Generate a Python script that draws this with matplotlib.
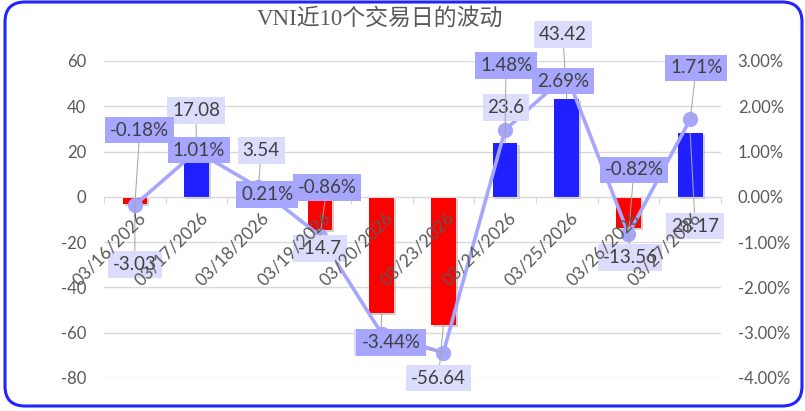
import matplotlib
matplotlib.use('Agg')
import matplotlib.pyplot as plt
import matplotlib.patheffects as pe
from matplotlib.patches import FancyBboxPatch
from matplotlib.transforms import IdentityTransform
from matplotlib.ticker import FuncFormatter

plt.rcParams['font.family'] = ['Lato', 'DejaVu Sans']
plt.rcParams['axes.unicode_minus'] = False

# ── 数据 ──
dates = ['03/16/2026', '03/17/2026', '03/18/2026', '03/19/2026', '03/20/2026',
         '03/23/2026', '03/24/2026', '03/25/2026', '03/26/2026', '03/27/2026']
change_pts = [-3.03, 17.08, 3.54, -14.7, -51.2, -56.64, 23.6, 43.42, -13.56, 28.17]
change_pct = [-0.18, 1.01, 0.21, -0.86, -3.02, -3.44, 1.48, 2.69, -0.82, 1.71]

# 标签位置 (像素偏移: 右, 下)
bar_lbl_off = [(0, 61), (-0.6, -48), (3, -38), (0, 18), (-1, 30),
               (-5, 53), (1, -36), (-4, -64), (1.5, 30), (5, 93)]
line_lbl_off = [(5, -75), (2.5, -1), (9, 7.5), (7, -48), (9, 9),
                (-52, -10), (1, -64), (-4, 6), (5.5, -64), (6, -51.5)]

BLUE = '#1F1FFF'
RED = '#FF0000'
LINE = '#A6A6FF'
LBL_LIGHT = '#DCDCFC'
TXT = '#404040'
GREY = '#595959'
GRID = '#D9D9D9'

fig = plt.figure(figsize=(8.05, 4.11), dpi=100)
ax = fig.add_axes([0.1292, 0.0803, 0.7665, 0.7713])
x = list(range(len(dates)))

# (1) 柱状图: 涨跌点数
colors = [BLUE if v >= 0 else RED for v in change_pts]
bars = ax.bar(x, change_pts, width=0.4, color=colors, zorder=2)
for b in bars:
    b.set_path_effects([pe.SimplePatchShadow(offset=(1.5, -1.5), shadow_rgbFace='#808080', alpha=0.35),
                        pe.Normal()])

ax.set_xlim(-0.5, len(dates) - 0.5)
ax.set_ylim(-80, 60)
ax.set_yticks(range(-80, 61, 20))
ax.yaxis.grid(True, color=GRID, lw=1)
ax.set_axisbelow(True)
ax.set_xticks([i + 0.5 for i in x[:-1]] + [-0.5, len(dates) - 0.5])
ax.tick_params(axis='x', length=5, color=GRID, labelbottom=False)
ax.tick_params(axis='y', length=0, labelsize=12, labelcolor=GREY, pad=13)
for s in ['top', 'left', 'right']:
    ax.spines[s].set_visible(False)
ax.spines['bottom'].set_position(('data', 0))
ax.spines['bottom'].set_color(GRID)

# (2) 折线图: 涨跌幅
ax2 = ax.twinx()
ax2.plot(x, change_pct, color=LINE, lw=2.6, marker='o', ms=10, zorder=3)
ax2.set_ylim(-4, 3)
ax2.set_yticks(range(-4, 4))
ax2.yaxis.set_major_formatter(FuncFormatter(lambda v, p: f'{v:.2f}%'))
ax2.tick_params(axis='y', length=0, labelsize=12, labelcolor=GREY, pad=12)
for s in ax2.spines.values():
    s.set_visible(False)

# 数据标签都画在折线之上
for i, v in enumerate(change_pts):
    dx, dy = bar_lbl_off[i]
    ax2.annotate(f'{v:g}', xy=(i, v), xycoords=ax.transData,
                 xytext=(dx * 0.72, -dy * 0.72), textcoords='offset points',
                 ha='center', va='center', fontsize=13.5, color=TXT, zorder=5,
                 bbox=dict(boxstyle='square,pad=0.26', fc=LBL_LIGHT, ec='none'),
                 arrowprops=dict(arrowstyle='-', color='#A6A6A6', lw=0.75, shrinkA=0, shrinkB=0))

for i, p in enumerate(change_pct):
    dx, dy = line_lbl_off[i]
    ax2.annotate(f'{p:.2f}%', xy=(i, p), xytext=(dx * 0.72, -dy * 0.72), textcoords='offset points',
                 ha='center', va='center', fontsize=13.5, color=TXT, zorder=6,
                 bbox=dict(boxstyle='square,pad=0.26', fc=LINE, ec='none'),
                 arrowprops=dict(arrowstyle='-', color='#A6A6A6', lw=0.75, shrinkA=0, shrinkB=0))

# 日期标签 (画在最上层)
for i, d in enumerate(dates):
    ax2.annotate(d, xy=(i, 0), xytext=(2, -9), textcoords='offset points',
                 rotation=45, rotation_mode='anchor', ha='right', va='top',
                 fontsize=12.5, color=GREY, zorder=10, annotation_clip=False)

fig.text(0.472, 0.955, 'VNI近10个交易日的波动', ha='center', va='center', fontsize=16.5,
         color=GREY, family=['Liberation Serif', 'Noto Sans CJK SC'])

# 圆角边框
border = FancyBboxPatch((5, 5), 797, 404, boxstyle='round,pad=0,rounding_size=20',
                        transform=IdentityTransform(), fc='none', ec='#2323FF', lw=2.2)
fig.patches.append(border)

fig.savefig('out.png', dpi=100)
